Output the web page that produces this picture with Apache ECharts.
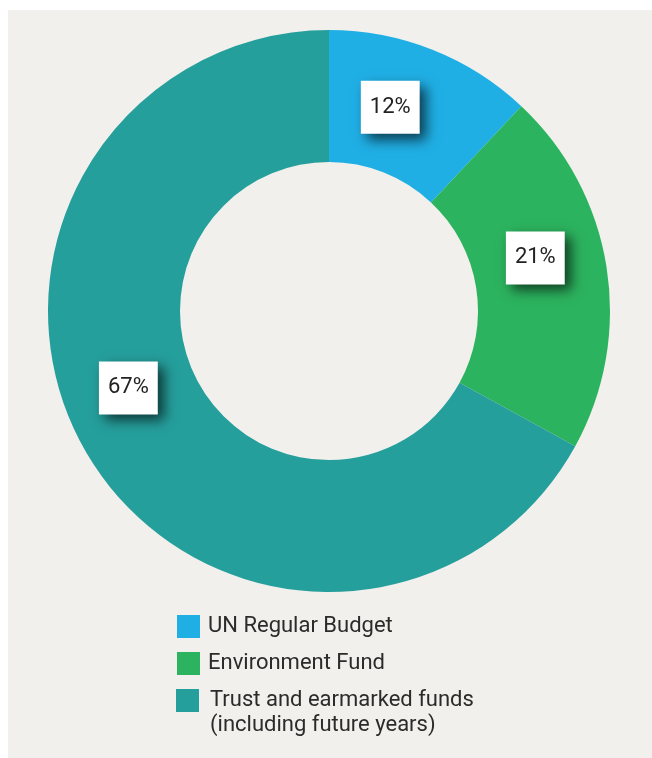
<!DOCTYPE html>
<html>
<head>
<meta charset="utf-8">
<script src="https://cdn.jsdelivr.net/npm/echarts@6/dist/echarts.min.js"></script>
<style>
  html, body { margin: 0; padding: 0; background: #ffffff; }
  #chart { width: 652px; height: 758px; }
</style>
</head>
<body>
<div id="chart"></div>
<script>
// data
const categories = ['UN Regular Budget', 'Environment Fund', 'Trust and earmarked funds (including future years)'];
const shares = [12, 21, 67];
const colors = ['#20afe5', '#2cb35f', '#259f9c'];

// label nudges (px) so the white boxes sit where the original has them
const labelShift = [[-19, -1], [-9, -19], [-13, -34]];

const pieData = categories.map((name, i) => ({
    name: name,
    value: shares[i],
    itemStyle: {color: colors[i]}
}));

const chart = echarts.init(document.getElementById('chart'));

const option = {
    backgroundColor: 'transparent',
    animation: false,
    graphic: [
        {
            type: 'rect',
            left: 8,
            top: 10,
            z: -10,
            shape: {width: 644, height: 748},
            style: {fill: '#f1f0ec'}
        }
    ],
    legend: [
        {
            // first two items
            data: categories.slice(0, 2),
            orient: 'vertical',
            left: 172,
            top: 610,
            itemWidth: 23,
            itemHeight: 23,
            itemGap: 14,
            icon: 'rect',
            selectedMode: false,
            textStyle: {
                fontFamily: 'Roboto',
                fontSize: 22,
                color: '#2b2b2b',
                lineHeight: 23,
                padding: [0, 0, 0, 3]
            }
        },
        {
            // third item wraps on two lines, icon stays beside the first line
            data: [{
                name: categories[2],
                icon: 'path://M0,0h23v23h-23zM0,48h0.01'
            }],
            orient: 'vertical',
            left: 171,
            top: 683,
            itemWidth: 23,
            itemHeight: 48,
            selectedMode: false,
            formatter: function (name) {
                return name.replace(' (', '\n(');
            },
            textStyle: {
                fontFamily: 'Roboto',
                fontSize: 22,
                color: '#2b2b2b',
                lineHeight: 25,
                padding: [0, 0, 0, 6]
            }
        }
    ],
    series: [
        {
            type: 'pie',
            center: [329, 311],
            radius: [149, 281],
            startAngle: 90,
            clockwise: true,
            silent: true,
            label: {
                show: true,
                position: 'inside',
                formatter: '{c}%',
                fontFamily: 'Roboto',
                fontSize: 22,
                color: '#222222',
                backgroundColor: '#ffffff',
                padding: [15, 9],
                lineHeight: 23,
                shadowColor: 'rgba(0, 0, 0, 0.65)',
                shadowBlur: 12,
                shadowOffsetX: 6,
                shadowOffsetY: 6
            },
            labelLine: {show: false},
            labelLayout: function (params) {
                const s = labelShift[params.dataIndex];
                return {dx: s[0], dy: s[1]};
            },
            data: pieData
        }
    ]
};

chart.setOption(option);
</script>
</body>
</html>
